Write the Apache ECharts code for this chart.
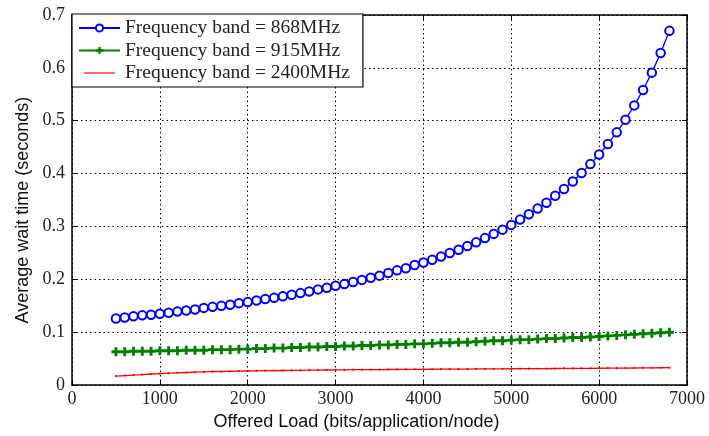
<!DOCTYPE html>
<html>
<head>
<meta charset="utf-8">
<script src="https://cdn.jsdelivr.net/npm/echarts@6/dist/echarts.min.js"></script>
<style>
  html, body { margin: 0; padding: 0; background: #fff; }
  #chart { width: 709px; height: 436px; }
</style>
</head>
<body>
<div id="chart"></div>
<script>
// Offered load (bits/application/node)
var loads = [500, 600, 700, 800, 900, 1000, 1100, 1200, 1300, 1400, 1500, 1600, 1700, 1800, 1900,
  2000, 2100, 2200, 2300, 2400, 2500, 2600, 2700, 2800, 2900, 3000, 3100, 3200, 3300, 3400, 3500,
  3600, 3700, 3800, 3900, 4000, 4100, 4200, 4300, 4400, 4500, 4600, 4700, 4800, 4900, 5000, 5100,
  5200, 5300, 5400, 5500, 5600, 5700, 5800, 5900, 6000, 6100, 6200, 6300, 6400, 6500, 6600, 6700, 6800];

// Average wait time (seconds), 868 MHz
var wait868 = [0.126, 0.128, 0.130, 0.132, 0.133, 0.135, 0.137, 0.139, 0.141, 0.143, 0.146, 0.148, 0.150, 0.152, 0.155,
  0.157, 0.160, 0.163, 0.165, 0.168, 0.171, 0.174, 0.177, 0.181, 0.184, 0.188, 0.191, 0.195, 0.199, 0.203, 0.207,
  0.212, 0.217, 0.221, 0.227, 0.232, 0.237, 0.243, 0.250, 0.256, 0.263, 0.270, 0.278, 0.286, 0.294, 0.303, 0.313,
  0.323, 0.334, 0.345, 0.358, 0.371, 0.385, 0.401, 0.418, 0.436, 0.456, 0.478, 0.502, 0.529, 0.558, 0.591, 0.628, 0.670];

// 915 MHz
var wait915 = [0.063, 0.063, 0.064, 0.064, 0.064, 0.065, 0.065, 0.065, 0.066, 0.066, 0.066, 0.067, 0.067, 0.067, 0.068,
  0.068, 0.069, 0.069, 0.070, 0.070, 0.071, 0.071, 0.072, 0.072, 0.073, 0.073, 0.074, 0.074, 0.075, 0.075, 0.076,
  0.076, 0.077, 0.077, 0.078, 0.078, 0.079, 0.080, 0.080, 0.081, 0.081, 0.082, 0.083, 0.084, 0.084, 0.085, 0.086,
  0.086, 0.087, 0.088, 0.088, 0.089, 0.090, 0.090, 0.091, 0.092, 0.093, 0.094, 0.095, 0.096, 0.097, 0.098, 0.099, 0.100];

// 2400 MHz
var wait2400 = [0.0170, 0.0180, 0.0190, 0.0200, 0.0210, 0.0218, 0.0225, 0.0232, 0.0238, 0.0244, 0.0249, 0.0253, 0.0257, 0.0261, 0.0264,
  0.0267, 0.0270, 0.0272, 0.0274, 0.0276, 0.0278, 0.0280, 0.0282, 0.0284, 0.0286, 0.0288, 0.0289, 0.0291, 0.0292, 0.0293, 0.0294,
  0.0295, 0.0296, 0.0297, 0.0298, 0.0299, 0.0300, 0.0301, 0.0302, 0.0303, 0.0304, 0.0305, 0.0306, 0.0307, 0.0308, 0.0309, 0.0310,
  0.0311, 0.0312, 0.0313, 0.0314, 0.0315, 0.0316, 0.0317, 0.0318, 0.0319, 0.0320, 0.0321, 0.0322, 0.0323, 0.0324, 0.0326, 0.0328, 0.0330];

var seriesNames = ['Frequency band = 868MHz', 'Frequency band = 915MHz', 'Frequency band = 2400MHz'];

function zip(xs, ys) { return xs.map(function (x, i) { return [x, ys[i]]; }); }

var plusPath = 'path://M3.4,0 L6.6,0 L6.6,3.4 L10,3.4 L10,6.6 L6.6,6.6 L6.6,10 L3.4,10 L3.4,6.6 L0,6.6 L0,3.4 L3.4,3.4 Z';
// legend icon for the red series: a plain thin line (invisible anchors keep the box size)
var thinLineIcon = 'path://M0,0 L0,0 M0,5.2 L41,5.2 L41,6.8 L0,6.8 Z M41,12 L41,12';

var serif = 'Liberation Serif';
var sans = 'Liberation Sans';
var gridLine = { show: true, lineStyle: { color: '#000', width: 1, type: [1.5, 3] } };
var plainNum = function (v) { return String(Math.round(v * 1000) / 1000); };

var chart = echarts.init(document.getElementById('chart'), null, { renderer: 'canvas' });
chart.setOption({
  animation: false,
  backgroundColor: '#fff',
  grid: { left: 72, right: 22, top: 15, bottom: 46, containLabel: false },
  legend: {
    orient: 'vertical',
    left: 72, top: 14,
    padding: [4, 13, 4, 6],
    itemGap: 2.5,
    itemWidth: 41, itemHeight: 9,
    backgroundColor: '#fff',
    borderColor: '#000', borderWidth: 1.2, borderRadius: 0,
    textStyle: { fontFamily: serif, fontSize: 19.5, color: '#222', lineHeight: 20 },
    data: [
      { name: seriesNames[0] },
      { name: seriesNames[1] },
      { name: seriesNames[2], icon: thinLineIcon }
    ]
  },
  xAxis: [{
    type: 'value', min: 0, max: 7000, interval: 1000, position: 'bottom',
    name: 'Offered Load (bits/application/node)', nameLocation: 'middle', nameGap: 24,
    nameTextStyle: { fontFamily: sans, fontSize: 18, color: '#111', padding: [0, 46, 0, 0] },
    axisLine: { show: true, onZero: false, lineStyle: { color: '#000', width: 1.5 } },
    axisTick: { show: true, inside: true, length: 5, lineStyle: { color: '#000' } },
    axisLabel: { fontFamily: serif, fontSize: 18, color: '#222', margin: 5, formatter: plainNum },
    splitLine: gridLine
  }, {
    type: 'value', min: 0, max: 7000, interval: 1000, position: 'top',
    axisLine: { show: true, onZero: false, lineStyle: { color: '#000', width: 1.5 } },
    axisTick: { show: true, inside: true, length: 5, lineStyle: { color: '#000' } },
    axisLabel: { show: false }, splitLine: { show: false }
  }],
  yAxis: [{
    type: 'value', min: 0, max: 0.7, interval: 0.1, position: 'left',
    name: 'Average wait time (seconds)', nameLocation: 'middle', nameGap: 39, nameRotate: 90,
    nameTextStyle: { fontFamily: sans, fontSize: 18, color: '#111', padding: [0, 20, 0, 0] },
    axisLine: { show: true, onZero: false, lineStyle: { color: '#000', width: 1.5 } },
    axisTick: { show: true, inside: true, length: 5, lineStyle: { color: '#000' } },
    axisLabel: { fontFamily: serif, fontSize: 18, color: '#222', margin: 7, formatter: plainNum },
    splitLine: gridLine
  }, {
    type: 'value', min: 0, max: 0.7, interval: 0.1, position: 'right',
    axisLine: { show: true, onZero: false, lineStyle: { color: '#000', width: 1.5 } },
    axisTick: { show: true, inside: true, length: 5, lineStyle: { color: '#000' } },
    axisLabel: { show: false }, splitLine: { show: false }
  }],
  series: [{
    name: seriesNames[0], type: 'line', data: zip(loads, wait868),
    symbol: 'emptyCircle', symbolSize: 8.5, showSymbol: true,
    lineStyle: { color: '#0000ff', width: 1.3 },
    itemStyle: { color: '#0000ff', borderColor: '#0000ff', borderWidth: 1.8 },
    z: 4
  }, {
    name: seriesNames[1], type: 'line', data: zip(loads, wait915),
    symbol: plusPath, symbolSize: 9,
    lineStyle: { color: '#008000', width: 1.5 },
    itemStyle: { color: '#008000' },
    z: 3
  }, {
    name: seriesNames[2], type: 'line', data: zip(loads, wait2400),
    symbol: 'circle', symbolSize: 2.2,
    lineStyle: { color: '#ff0000', width: 1.3 },
    itemStyle: { color: '#ff0000' },
    z: 2
  }]
});
</script>
</body>
</html>
